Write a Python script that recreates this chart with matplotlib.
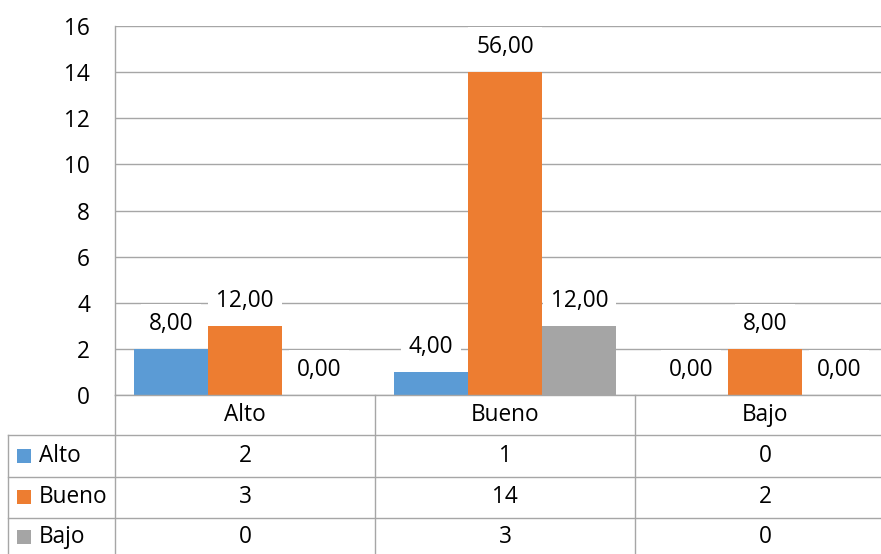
import matplotlib
matplotlib.use("Agg")
import matplotlib.pyplot as plt
from matplotlib.patches import Rectangle
from matplotlib.transforms import blended_transform_factory

# Data
categories = ["Alto", "Bueno", "Bajo"]
series_names = ["Alto", "Bueno", "Bajo"]
alto_values = [2, 1, 0]
bueno_values = [3, 14, 2]
bajo_values = [0, 3, 0]
series_values = [alto_values, bueno_values, bajo_values]
series_colors = ["#5B9BD5", "#ED7D31", "#A5A5A5"]
y_ticks = [0, 2, 4, 6, 8, 10, 12, 14, 16]

total = sum(sum(s) for s in series_values)

W, H = 881, 554
plt.rcParams["font.family"] = ["Open Sans", "DejaVu Sans"]
FS = 16.3
GRID = "#A6A6A6"

fig = plt.figure(figsize=(W / 100, H / 100), dpi=100)
fig.patch.set_facecolor("white")

# plot area in pixel units
left_px, right_px, top_px, bottom_px = 115, 895, 26, 395
ax = fig.add_axes([left_px / W, 1 - bottom_px / H,
                   (right_px - left_px) / W, (bottom_px - top_px) / H])

n_cat = len(categories)
bar_w = 0.2858
offsets = [-bar_w, 0.0, bar_w]
centers = [i + 0.5 for i in range(n_cat)]

ax.set_xlim(0, n_cat)
ax.set_ylim(0, 16)
ax.set_yticks(y_ticks)
ax.set_yticklabels([str(t) for t in y_ticks], fontsize=FS, color="black")
ax.tick_params(axis="y", length=0, pad=18)
ax.set_xticks([])
ax.yaxis.grid(True, color=GRID, linewidth=1.0)
ax.set_axisbelow(True)
for side in ["top", "right"]:
    ax.spines[side].set_visible(False)
for side in ["left", "bottom"]:
    ax.spines[side].set_color(GRID)
    ax.spines[side].set_linewidth(1.0)

for vals, off, col in zip(series_values, offsets, series_colors):
    xs = [c + off for c in centers]
    ax.bar(xs, vals, width=bar_w, color=col, zorder=2)

# percentage labels with white boxes
for vals, off in zip(series_values, offsets):
    for c, v in zip(centers, vals):
        pct = v / total * 100
        txt = f"{pct:.2f}".replace(".", ",")
        ax.annotate(txt, xy=(c + off, v), xytext=(0, 13.7),
                    textcoords="offset points", ha="center", va="baseline",
                    fontsize=FS, color="black", zorder=5,
                    bbox=dict(boxstyle="square,pad=0.35", fc="white", ec="none"))

# data table below the plot area
tr = blended_transform_factory(ax.transData, fig.transFigure)
def fy(py):
    return 1 - py / H

row_lines = [435, 477, 518]
x_label_left = (8 - left_px) / (right_px - left_px) * n_cat

line_kw = dict(color=GRID, linewidth=1.0, transform=tr, clip_on=False)
for yl in row_lines:
    ax.plot([x_label_left, n_cat], [fy(yl), fy(yl)], **line_kw)
# vertical separators
for xv in range(1, n_cat + 1):
    ax.plot([xv, xv], [fy(bottom_px), fy(H + 5)], **line_kw)
ax.plot([0, 0], [fy(bottom_px), fy(H + 5)], **line_kw)
ax.plot([x_label_left, x_label_left], [fy(row_lines[0]), fy(H + 5)], **line_kw)

# header with category names
for c, name in zip(centers, categories):
    ax.text(c, fy(415), name, transform=tr, ha="center", va="center",
            fontsize=FS, color="black", clip_on=False)

row_centers = [456, 497, 537]
ftr = fig.transFigure
for name, vals, col, yc in zip(series_names, series_values, series_colors, row_centers):
    ax.add_patch(Rectangle((17 / W, fy(yc + 7)), 14 / W, 14 / H, transform=ftr,
                           facecolor=col, edgecolor="none", clip_on=False))
    fig.text(39 / W, fy(yc), name, ha="left", va="center", fontsize=FS,
             color="black")
    for c, v in zip(centers, vals):
        ax.text(c, fy(yc), str(v), transform=tr, ha="center", va="center",
                fontsize=FS, color="black", clip_on=False)

fig.savefig("out.png", dpi=100, facecolor="white")
